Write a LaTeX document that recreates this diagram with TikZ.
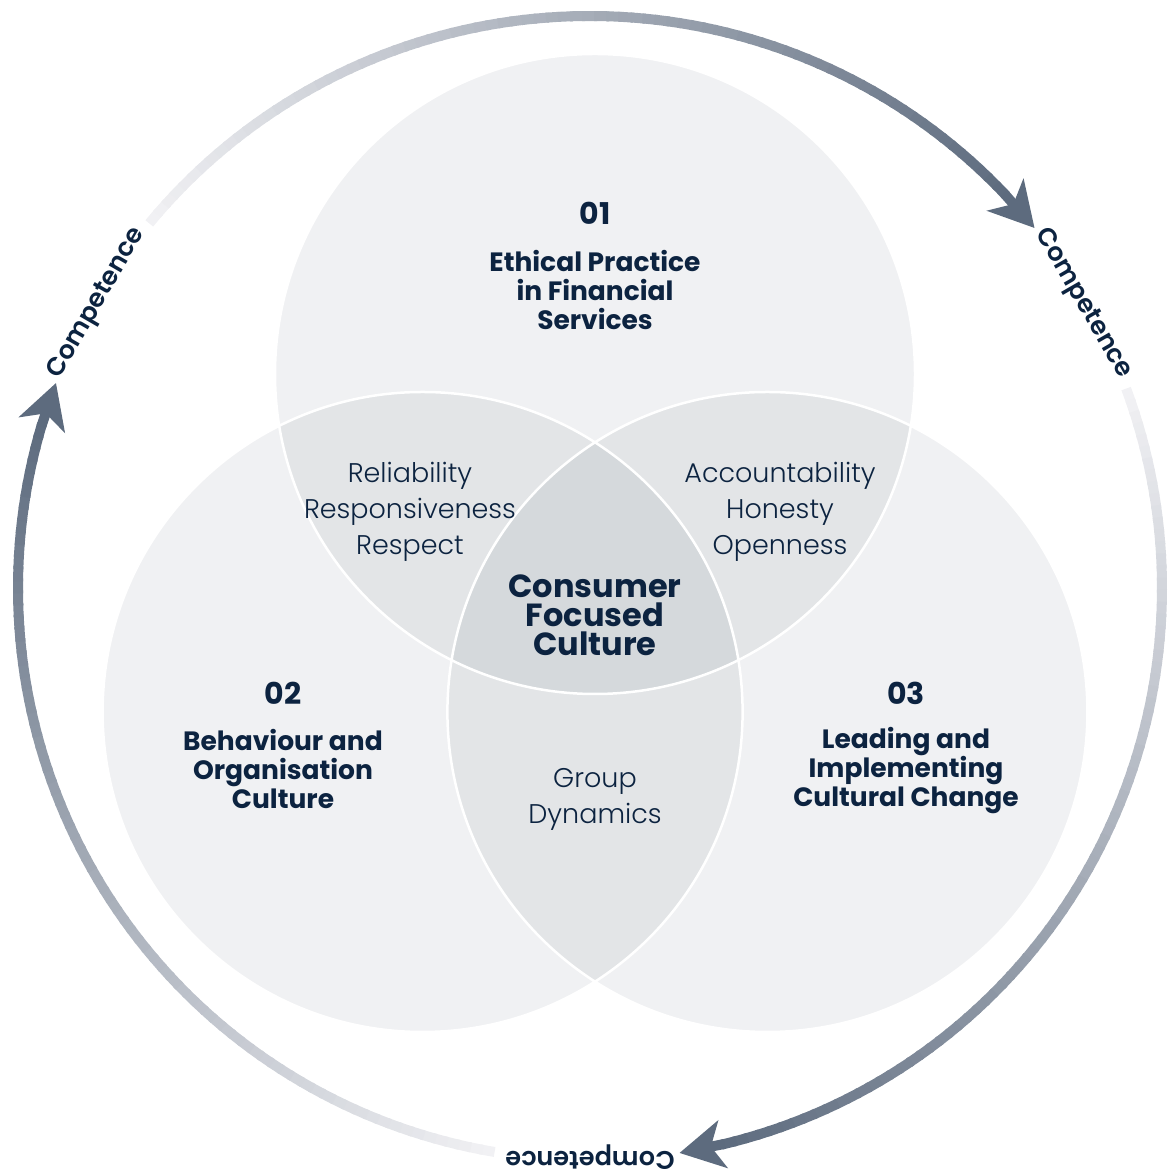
\documentclass[tikz,border=0pt]{standalone}
\usepackage{fontspec}
\setmainfont{Poppins}
\IfFontExistsTF{Poppins Light}{\newfontfamily\poplight{Poppins Light}}{\newfontfamily\poplight{Poppins}}
\IfFontExistsTF{Poppins SemiBold}{\newfontfamily\popsemi{Poppins SemiBold}}{\newfontfamily\popsemi{Poppins}[FakeBold=1.5]}
\usetikzlibrary{arrows.meta}
\definecolor{navy}{HTML}{0C2340}
\definecolor{cbase}{HTML}{F0F1F3}
\definecolor{cmid}{HTML}{E3E5E7}
\definecolor{ccore}{HTML}{D5D9DC}
\definecolor{ringdark}{HTML}{5D6B7E}
\definecolor{ringlight}{HTML}{F1F1F4}
\tikzset{
  numlbl/.style={inner sep=0pt, text=navy, font=\fontsize{30}{30}\selectfont\bfseries},
  head/.style={inner sep=0pt, align=center, text=navy, font=\fontsize{26.5}{29}\selectfont\bfseries},
  corelbl/.style={inner sep=0pt, align=center, text=navy, font=\fontsize{32}{29}\selectfont\bfseries},
  trait/.style={inner sep=0pt, align=center, text=navy, font=\poplight\fontsize{27}{36}\selectfont},
  comp/.style={inner sep=0pt, text=navy, font=\popsemi\fontsize{25.5}{25.5}\selectfont},
}
\begin{document}
\begin{tikzpicture}[x=1pt,y=1pt]
\useasboundingbox (0,0) rectangle (1168,1174);
\coordinate (T) at (595,800);
\coordinate (L) at (422.6,462);
\coordinate (R) at (767.4,462);
\coordinate (O) at (590,586);
\def\rr{320}
% circles
\fill[cbase] (T) circle[radius=\rr];
\fill[cbase] (L) circle[radius=\rr];
\fill[cbase] (R) circle[radius=\rr];
\begin{scope}\clip (T) circle[radius=\rr];
  \fill[cmid] (L) circle[radius=\rr];
  \fill[cmid] (R) circle[radius=\rr];
\end{scope}
\begin{scope}\clip (L) circle[radius=\rr];
  \fill[cmid] (R) circle[radius=\rr];
\end{scope}
\begin{scope}\clip (T) circle[radius=\rr]; \clip (L) circle[radius=\rr];
  \fill[ccore] (R) circle[radius=\rr];
\end{scope}
\draw[white, line width=2.5pt] (T) circle[radius=\rr] (L) circle[radius=\rr] (R) circle[radius=\rr];
% ring
\foreach \a [count=\k] in {150,30,-90}{
  \pgfmathsetmacro\s{\a-9.6}
  \pgfmathsetmacro\tip{\a-111}
  \pgfmathsetmacro\e{\tip+4.6}
  \foreach \i in {0,...,79}{
    \pgfmathsetmacro\ta{\s+(\e-\s)*\i/80}
    \pgfmathsetmacro\tb{\s+(\e-\s)*(\i+1)/80-0.3}
    \pgfmathtruncatemacro\p{100*(\i+0.5)/80}
    \draw[line width=10pt, color=ringdark!\p!ringlight] ([shift={(\ta:572)}]O) arc[start angle=\ta, end angle=\tb, radius=572];
  }
  \draw[line width=10pt, ringdark, -{Stealth[length=44pt,width=48pt,inset=12pt]}] ([shift={(\e:572)}]O) -- ([shift={(\tip:572)}]O);
  \node[comp, rotate=\a-90] (comp\k) at ([shift={(\a:569)}]O) {Competence};
}
% texts
\node[numlbl] (n1) at (595,961) {01};
\node[head] (h1) at (595,884) {Ethical Practice\\in Financial\\Services};
\node[corelbl] (core) at (595,559) {Consumer\\Focused\\Culture};
\node[numlbl] (n2) at (283,481) {02};
\node[head] (h2) at (283,405) {Behaviour and\\Organisation\\Culture};
\node[numlbl] (n3) at (906,481) {03};
\node[head] (h3) at (906,403) {Leading and\\Implementing\\Cultural Change};
\node[trait] (t12) at (410,662) {Reliability\\Responsiveness\\Respect};
\node[trait] (t13) at (780,662) {Accountability\\Honesty\\Openness};
\node[trait] (t23) at (595,375) {Group\\Dynamics};
\end{tikzpicture}
\end{document}
